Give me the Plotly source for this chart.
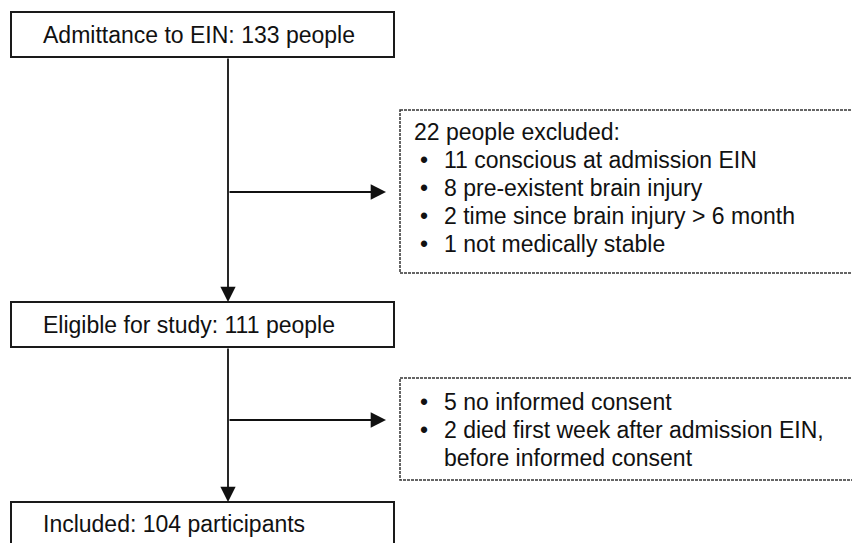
import plotly.graph_objects as go

# ---- content ----
main_boxes = ["Admittance to EIN: 133 people",
              "Eligible for study: 111 people",
              "Included: 104 participants"]
excl1_header = "22 people excluded:"
excl1_items = ["11 conscious at admission EIN",
               "8 pre-existent brain injury",
               "2 time since brain injury > 6 month",
               "1 not medically stable"]
excl2_items = [["5 no informed consent"],
               ["2 died first week after admission EIN,", "before informed consent"]]

# ---- layout geometry (pixels in the screenshot) ----
W, H = 860, 543
OFF = 8  # page body margin
BOX_X0, BOX_X1 = 11, 394
main_y = [(12, 57), (302, 347), (502, 560)]
STEM_X = 228
dash_boxes = [(400, 880, 110, 273), (400, 880, 378, 480)]
branch_y = [192, 420]
BRANCH_TIP = 386
LINE_H = 28
FONT = "Liberation Sans, Arial, sans-serif"
FS = 23

fig = go.Figure()
shapes = []
ann = []

text_y = [34.5, 325, 524]
for (y0, y1), label, ty in zip(main_y, main_boxes, text_y):
    shapes.append(dict(type="rect", x0=BOX_X0, x1=BOX_X1, y0=y0, y1=y1,
                       line=dict(color="#1a1a1a", width=2), fillcolor="white", layer="below"))
    ann.append(dict(x=41, y=ty, text=label, xanchor="left", yanchor="middle", showarrow=False))

for (x0, x1, y0, y1) in dash_boxes:
    shapes.append(dict(type="rect", x0=x0, x1=x1, y0=y0, y1=y1,
                       line=dict(color="#333333", width=1.5, dash="3px,1px"),
                       fillcolor="white", layer="below"))

# vertical arrows between main boxes
for i in range(len(main_y) - 1):
    ann.append(dict(x=STEM_X, y=main_y[i + 1][0], ax=STEM_X, ay=main_y[i][1],
                    axref="x", ayref="y", xref="x", yref="y", text="",
                    showarrow=True, arrowhead=2, arrowsize=1.7, arrowwidth=1.8,
                    arrowcolor="#111111", standoff=0))
# branch arrows
for by in branch_y:
    ann.append(dict(x=BRANCH_TIP, y=by, ax=STEM_X, ay=by,
                    axref="x", ayref="y", xref="x", yref="y", text="",
                    showarrow=True, arrowhead=2, arrowsize=1.7, arrowwidth=1.8,
                    arrowcolor="#111111", standoff=0))

# exclusion box 1 text
ty = 132
ann.append(dict(x=412, y=ty, text=excl1_header, xanchor="left", yanchor="middle", showarrow=False))
for item in excl1_items:
    ty += LINE_H
    ann.append(dict(x=418, y=ty, text="•", xanchor="left", yanchor="middle", showarrow=False))
    ann.append(dict(x=442, y=ty, text=item, xanchor="left", yanchor="middle", showarrow=False))

# exclusion box 2 text
ty = 402
for item in excl2_items:
    ann.append(dict(x=418, y=ty, text="•", xanchor="left", yanchor="middle", showarrow=False))
    for k, line in enumerate(item):
        ann.append(dict(x=442, y=ty, text=line, xanchor="left", yanchor="middle", showarrow=False))
        ty += LINE_H

for a in ann:
    a.setdefault("xref", "x")
    a.setdefault("yref", "y")
    a["font"] = dict(family=FONT, size=FS, color="#111111")

fig.update_layout(
    width=W, height=H, margin=dict(l=0, r=0, t=0, b=0),
    paper_bgcolor="white", plot_bgcolor="white",
    xaxis=dict(range=[OFF, W + OFF], visible=False, fixedrange=True),
    yaxis=dict(range=[H + OFF, OFF], visible=False, fixedrange=True),
    shapes=shapes, annotations=ann, showlegend=False,
)
fig.write_html("out.html")
